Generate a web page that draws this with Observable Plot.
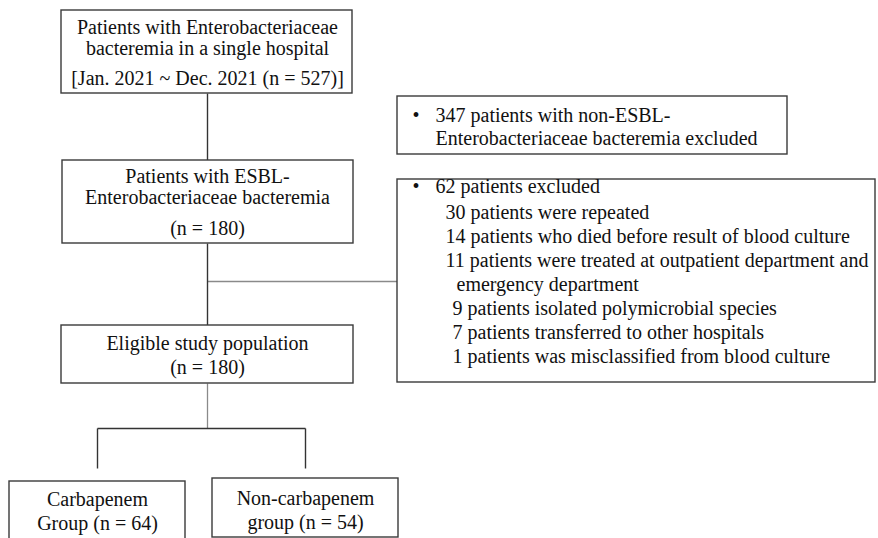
<!DOCTYPE html>
<html>
<head>
<meta charset="utf-8">
<script src="https://cdn.jsdelivr.net/npm/d3@7"></script>
<script src="https://cdn.jsdelivr.net/npm/@observablehq/plot@0.6"></script>
<style>
  html, body { margin: 0; padding: 0; background: #fff; }
  #chart svg { display: block; }
</style>
</head>
<body>
<div id="chart"></div>
<script>
// ---- data ----
const totalN = 527;
const nonEsblExcluded = 347;
const esblN = 180;
const excludedN = 62;
const eligibleN = 180;
const carbapenemN = 64;
const nonCarbapenemN = 54;
const exclusionCounts = [30, 14, 11, 9, 7, 1];
const exclusionReasons = [
  "patients were repeated",
  "patients who died before result of blood culture",
  "patients were treated at outpatient department and",
  "patients isolated polymicrobial species",
  "patients transferred to other hospitals",
  "patients was misclassified from blood culture"
];
const exclusionContinuation = "emergency department";

// ---- layout ----
const boxes = [
  {x1: 61, y1: 10, x2: 352, y2: 93},
  {x1: 62, y1: 160, x2: 353, y2: 243},
  {x1: 61, y1: 325, x2: 353, y2: 383},
  {x1: 397, y1: 96, x2: 787, y2: 154},
  {x1: 397, y1: 179, x2: 875, y2: 382},
  {x1: 9, y1: 481, x2: 185, y2: 545},
  {x1: 212, y1: 478, x2: 398, y2: 537}
];
const darkLinks = [
  {x1: 207, y1: 93, x2: 207, y2: 160},
  {x1: 207, y1: 243, x2: 207, y2: 325},
  {x1: 97, y1: 428, x2: 305, y2: 428},
  {x1: 97, y1: 428, x2: 97, y2: 468},
  {x1: 305, y1: 428, x2: 305, y2: 468}
];
const grayLinks = [
  {x1: 207, y1: 281, x2: 397, y2: 281},
  {x1: 207, y1: 383, x2: 207, y2: 428}
];

const centerTexts = [
  {x: 207, y: 27, t: "Patients with Enterobacteriaceae"},
  {x: 207, y: 48, t: "bacteremia in a single hospital"},
  {x: 207, y: 78, t: `[Jan. 2021 ~ Dec. 2021 (n = ${totalN})]`},
  {x: 207, y: 176, t: "Patients with ESBL-"},
  {x: 207, y: 197, t: "Enterobacteriaceae bacteremia"},
  {x: 207, y: 228, t: `(n = ${esblN})`},
  {x: 207, y: 343, t: "Eligible study population"},
  {x: 207, y: 367, t: `(n = ${eligibleN})`},
  {x: 97, y: 499, t: "Carbapenem"},
  {x: 97, y: 523, t: `Group (n = ${carbapenemN})`},
  {x: 305, y: 498, t: "Non-carbapenem"},
  {x: 305, y: 522, t: `group (n = ${nonCarbapenemN})`}
];

const leftTexts = [
  {x: 412, y: 115, t: "•"},
  {x: 435, y: 115, t: `${nonEsblExcluded} patients with non-ESBL-`},
  {x: 435, y: 138, t: "Enterobacteriaceae bacteremia excluded"},
  {x: 412, y: 186, t: "•"},
  {x: 435, y: 186, t: `${excludedN} patients excluded`}
];
const reasonY = [212, 236, 260, 308, 332, 356];
const reasonX = [445, 445, 445, 452, 452, 452];
exclusionCounts.forEach((c, i) => {
  leftTexts.push({x: reasonX[i], y: reasonY[i], t: `${c} ${exclusionReasons[i]}`});
});
leftTexts.push({x: 456, y: 284, t: exclusionContinuation});

const font = "'Liberation Serif', 'Times New Roman', serif";
const fs = 20;

const chart = Plot.plot({
  width: 878,
  height: 538,
  margin: 0,
  x: {type: "linear", domain: [0, 878], range: [0, 878], axis: null},
  y: {type: "linear", domain: [0, 538], range: [0, 538], axis: null},
  style: {background: "#fff", fontFamily: font},
  marks: [
    Plot.link(grayLinks, {x1: "x1", y1: "y1", x2: "x2", y2: "y2", stroke: "#8a8a8a", strokeWidth: 1.3}),
    Plot.link(darkLinks, {x1: "x1", y1: "y1", x2: "x2", y2: "y2", stroke: "#333", strokeWidth: 1.4}),
    Plot.rect(boxes, {x1: "x1", y1: "y1", x2: "x2", y2: "y2", fill: "#fff", stroke: "#3a3a3a", strokeWidth: 1.4}),
    Plot.text(centerTexts, {x: "x", y: "y", text: "t", textAnchor: "middle", lineAnchor: "middle", fontFamily: font, fontSize: fs, fill: "#111"}),
    Plot.text(leftTexts, {x: "x", y: "y", text: "t", textAnchor: "start", lineAnchor: "middle", fontFamily: font, fontSize: fs, fill: "#111"})
  ]
});
document.getElementById("chart").appendChild(chart);
</script>
</body>
</html>
